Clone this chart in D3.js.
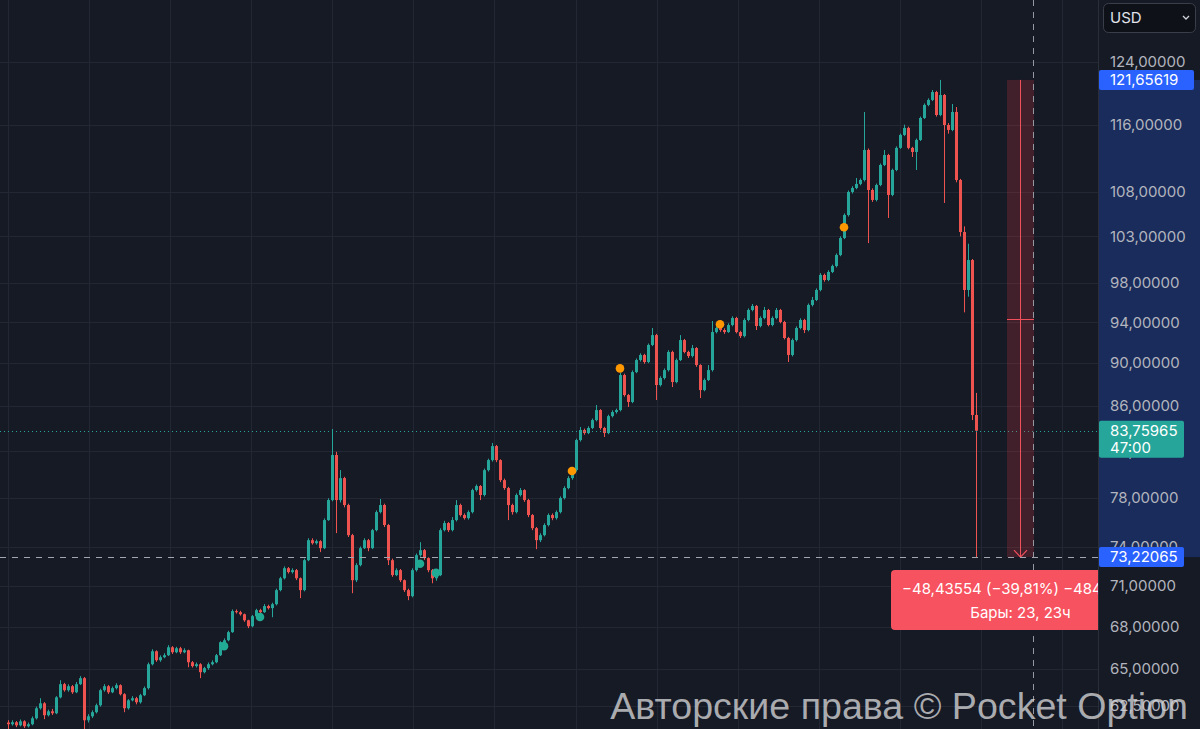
<!DOCTYPE html>
<html><head><meta charset="utf-8">
<script src="https://cdnjs.cloudflare.com/ajax/libs/d3/7.8.5/d3.min.js"></script>
<style>html,body{margin:0;padding:0;background:#161a25;overflow:hidden}svg{display:block}</style>
</head><body>
<svg id="c" width="1200" height="729"></svg>
<script>
// ---------- DATA ----------
const firstOpen = 61.40;
const closes = [
61.29,61.42,61.22,61.48,61.16,61.29,61.68,62.34,62.67,61.88,
62.14,62.01,63.07,63.96,63.55,63.82,63.41,63.96,64.37,61.55,
61.81,62.08,62.54,63.55,63.82,63.41,63.69,63.89,63.28,62.34,
62.87,63.01,62.74,63.21,63.69,65.33,66.24,65.61,65.82,65.96,
66.52,66.17,66.45,66.17,66.31,65.47,65.20,65.33,64.78,65.06,
65.33,65.47,65.96,66.88,67.02,67.60,69.13,69.05,68.90,68.46,
68.03,68.76,69.20,69.05,69.50,69.35,69.64,70.69,71.59,72.36,
72.06,72.21,71.59,70.69,72.98,74.55,74.31,74.47,73.92,76.16,
77.80,81.62,77.80,79.64,77.39,74.95,71.44,72.60,73.92,74.55,
73.92,75.35,76.81,77.39,75.76,72.98,71.83,72.21,71.44,70.69,
70.24,72.21,73.37,73.76,73.14,72.21,71.59,71.83,75.35,75.92,
75.35,76.16,77.39,76.57,76.32,76.81,78.63,78.97,78.22,80.32,
81.18,82.40,81.18,79.47,78.80,77.39,76.81,78.22,78.63,77.80,
76.57,75.51,74.55,74.95,75.76,76.57,76.32,76.81,77.97,78.80,
79.64,80.32,82.93,83.82,83.55,84.00,84.71,85.62,84.00,83.55,
85.07,85.44,85.62,88.87,87.00,86.36,89.15,90.30,90.79,90.11,
91.76,92.73,87.93,88.59,89.34,91.08,88.21,90.30,92.24,91.08,
90.69,91.46,89.82,87.46,88.40,89.34,93.03,93.43,93.23,93.03,
93.73,94.43,93.03,92.63,94.23,95.24,95.65,93.63,94.43,95.24,
93.73,94.43,95.24,94.03,92.44,90.79,92.24,93.43,94.23,93.23,
95.75,96.26,97.29,98.86,98.33,99.17,99.80,100.98,102.82,105.37,
107.98,108.44,108.91,109.37,112.92,108.21,107.07,108.79,111.13,112.32,
107.64,110.54,113.17,114.74,115.60,113.17,112.68,114.13,116.83,118.46,
119.09,120.10,117.20,119.72,115.96,115.35,117.58,109.37,103.48,97.29,
100.44,85.17,83.75965];
const highs = [
61.55,61.55,61.50,61.60,61.55,61.40,61.80,62.45,63.01,62.75,
62.25,62.30,63.15,64.23,64.05,63.95,63.90,64.10,64.51,64.45,
61.95,62.20,62.65,63.65,63.96,63.90,63.80,64.02,63.95,63.35,
62.95,63.15,63.10,63.30,63.80,65.45,66.38,66.30,65.95,66.10,
66.67,66.60,66.55,66.55,66.45,66.35,65.55,65.45,65.40,65.15,
65.45,65.60,66.05,66.95,67.15,67.70,69.25,69.25,69.15,68.95,
68.50,68.85,69.30,69.30,69.65,69.60,69.75,70.80,71.70,72.50,
72.45,72.35,72.30,71.65,73.10,74.70,74.70,74.60,74.55,76.30,
77.95,83.91,81.90,80.32,79.75,77.50,75.05,72.75,74.05,74.70,
74.65,75.45,76.95,77.89,77.50,75.85,73.10,72.35,72.30,71.50,
70.80,72.35,73.50,74.39,73.85,73.20,72.30,72.00,75.50,76.10,
76.00,76.40,77.80,77.50,76.70,76.95,78.75,79.10,79.05,80.45,
81.30,82.67,82.50,81.25,79.60,78.90,77.50,78.35,78.80,78.70,
77.90,76.65,75.60,75.10,75.90,76.70,76.70,76.95,78.10,78.95,
79.80,80.45,83.05,84.09,83.95,84.15,84.85,86.08,85.70,84.10,
85.20,85.60,85.75,89.10,89.00,87.10,89.30,90.45,90.95,90.90,
91.90,93.43,92.85,88.75,89.50,91.25,91.20,90.45,92.73,92.35,
91.20,91.76,91.55,89.90,88.55,89.82,94.13,93.60,93.60,93.40,
93.90,94.60,94.55,93.15,94.40,95.40,95.85,95.75,94.60,95.55,
95.35,94.60,95.44,95.35,94.15,92.55,92.40,93.60,94.40,94.35,
95.90,96.57,97.45,99.05,99.00,99.35,99.95,101.15,103.00,105.55,
108.15,108.65,109.60,109.55,117.58,113.10,108.40,108.95,111.30,112.92,
112.45,110.70,113.35,114.90,116.00,115.75,113.30,114.30,117.00,118.65,
119.30,120.36,120.25,121.65619,119.85,116.20,118.58,118.20,109.50,104.10,
102.20,100.55,87.20];
const lows = [
60.96,61.20,61.10,61.15,61.05,61.08,61.22,61.60,62.25,61.62,
61.80,61.90,61.95,63.00,63.45,63.45,63.30,63.35,63.90,60.96,
61.40,61.70,62.00,62.45,63.45,63.30,63.35,63.60,63.20,62.08,
62.25,62.80,62.60,62.65,63.15,63.60,65.25,65.50,65.50,65.75,
65.90,66.05,66.10,66.05,66.10,65.12,65.10,65.10,64.37,64.70,
64.95,65.25,65.40,65.90,66.75,66.95,67.55,68.95,68.80,68.35,
67.89,67.95,68.70,68.95,69.00,69.25,68.68,69.55,70.60,71.50,
71.95,71.95,71.45,70.09,70.60,72.90,74.20,74.20,73.61,73.85,
76.10,77.70,75.11,77.60,77.20,74.80,70.46,71.30,72.50,73.85,
73.68,73.85,75.25,76.70,75.60,72.60,71.70,71.75,71.30,70.55,
69.94,70.15,72.10,73.25,73.00,72.05,71.21,71.40,71.75,75.25,
75.20,75.25,76.05,76.45,76.20,76.20,76.70,78.50,77.80,78.10,
80.20,81.05,81.00,79.30,78.65,76.16,76.60,76.70,78.10,77.65,
76.40,75.35,73.84,74.40,74.85,75.65,76.15,76.20,76.70,77.85,
78.70,79.50,80.20,82.80,83.40,83.45,83.90,84.60,83.85,83.20,
83.45,84.95,85.30,85.50,86.85,85.90,86.25,89.05,90.15,89.95,
90.00,91.65,86.54,87.80,88.45,89.20,87.74,88.10,90.20,90.95,
90.50,90.55,89.65,86.72,87.35,88.30,89.20,92.90,93.05,92.85,
92.95,93.60,92.90,92.44,92.50,94.10,95.10,93.23,93.50,94.30,
93.60,93.60,94.30,93.90,92.30,90.11,90.65,92.10,93.30,92.93,
93.10,95.60,96.15,97.15,98.15,98.20,99.05,99.65,100.85,102.70,
105.20,107.80,108.30,108.75,109.20,102.27,106.85,106.90,108.65,111.00,
105.04,107.50,110.40,113.05,114.60,113.00,112.08,110.54,114.00,116.70,
118.30,118.95,117.00,117.05,106.73,114.90,115.20,109.10,103.00,95.00,
96.60,84.71,73.22065];
const priceTicks = [62.5,65,68,71,74,78,82,86,90,94,98,103,108,116,124];
const signalIdx   = [54,63,103,107,141,153,178,209];
const signalPrice = [66.6,68.7,72.7,72.0,80.25,89.5,93.8,104.0];
const signalKind  = ["up","up","up","up","hi","hi","hi","hi"];
const lastPrice = 83.75965;
const countdown = "47:00";
const rangeHigh = 121.65619, rangeLow = 73.22065;
const rangeBars = 23, rangeHours = 23;
const currency = "USD";
const watermark = "Авторские права © Pocket Option";

// ---------- DRAW ----------
const W=1200, H=729, plotR=1098;
const BG="#161a25", UP="#26a69a", DN="#ef5350", GRID="#232733";
const FONT="Inter, 'Noto Sans', sans-serif";
const svg=d3.select("#c");
svg.append("rect").attr("width",W).attr("height",H).attr("fill",BG);

const y=d3.scaleLog().domain([65,124]).range([669,62]);
const x=d3.scaleLinear().domain([0,closes.length-1]).range([8,976]);
const fmt=v=>d3.format(".5f")(v).replace(".",",");
const px=v=>Math.round(v)+0.5;

// grid
const g=svg.append("g");
g.selectAll("line.gh").data(priceTicks).join("line").attr("class","gh")
 .attr("x1",0).attr("x2",plotR).attr("y1",d=>px(y(d))).attr("y2",d=>px(y(d)))
 .attr("stroke",GRID).attr("stroke-width",1);
g.selectAll("line.gv").data(d3.range(0,266,20.27)).join("line").attr("class","gv")
 .attr("x1",d=>px(x(d))).attr("x2",d=>px(x(d))).attr("y1",0).attr("y2",H)
 .attr("stroke",GRID).attr("stroke-width",1);

// candles
const candles=closes.map((c,i)=>{const o=i?closes[i-1]:firstOpen;
  return {i,o,c,h:Math.max(highs[i],o,c),l:Math.min(lows[i],o,c)};});
const cg=svg.append("g");
cg.selectAll("line.w").data(candles).join("line").attr("class","w")
 .attr("x1",d=>x(d.i)+0.5).attr("x2",d=>x(d.i)+0.5)
 .attr("y1",d=>y(d.h)).attr("y2",d=>y(d.l))
 .attr("stroke",d=>d.c>=d.o?UP:DN).attr("stroke-width",1);
cg.selectAll("rect.b").data(candles).join("rect").attr("class","b")
 .attr("x",d=>x(d.i)-1).attr("width",3)
 .attr("y",d=>y(Math.max(d.o,d.c)))
 .attr("height",d=>Math.max(1,Math.abs(y(d.o)-y(d.c))))
 .attr("fill",d=>d.c>=d.o?UP:DN);

// signal dots
svg.append("g").selectAll("circle").data(signalIdx.map((d,k)=>({i:d,p:signalPrice[k],k:signalKind[k]})))
 .join("circle").attr("cx",d=>x(d.i)).attr("cy",d=>y(d.p)).attr("r",4.3)
 .attr("fill",d=>d.k==="up"?"#22ab94":"#ff9800");

// current price dotted line
const yLast=y(lastPrice);
svg.append("line").attr("x1",0).attr("x2",plotR).attr("y1",px(yLast)).attr("y2",px(yLast))
 .attr("stroke",UP).attr("stroke-dasharray","1,3");

// measure tool
const yHi=y(rangeHigh), yLo=y(rangeLow);
const mx0=1007, mx1=1034, mxc=1020.5;
svg.append("rect").attr("x",mx0).attr("y",yHi).attr("width",mx1-mx0).attr("height",yLo-yHi)
 .attr("fill","rgba(242,54,69,0.2)");
svg.append("line").attr("x1",mxc).attr("x2",mxc).attr("y1",yHi).attr("y2",yLo).attr("stroke","#f0505c");
svg.append("line").attr("x1",mx0).attr("x2",mx1).attr("y1",px((yHi+yLo)/2)).attr("y2",px((yHi+yLo)/2)).attr("stroke","#f0505c");
svg.append("path").attr("d",`M${mxc-6.5},${yLo-7}L${mxc},${yLo}L${mxc+6.5},${yLo-7}`)
 .attr("fill","none").attr("stroke","#f0505c").attr("stroke-width",1.2);

// crosshair
svg.append("line").attr("x1",1033.5).attr("x2",1033.5).attr("y1",0).attr("y2",H)
 .attr("stroke","#9598a1").attr("stroke-dasharray","6,6");
svg.append("line").attr("x1",0).attr("x2",plotR).attr("y1",px(yLo)).attr("y2",px(yLo))
 .attr("stroke","#a3a6af").attr("stroke-dasharray","6,6");

// measure label
const diff=rangeLow-rangeHigh, pct=diff/rangeHigh*100;
const lbl=svg.append("g");
lbl.append("rect").attr("x",891).attr("y",570).attr("width",2*(mxc-891)).attr("height",60).attr("rx",4).attr("fill","#f7525f");
lbl.append("text").attr("x",mxc).attr("y",594).attr("text-anchor","middle")
 .attr("font-family",FONT).attr("font-size",15).attr("fill","#fff")
 .text(`${fmt(diff)} (${d3.format(".2f")(pct).replace(".",",")}%) ${d3.format("d")(Math.round(diff*100000))}`);
lbl.append("text").attr("x",mxc).attr("y",618).attr("text-anchor","middle")
 .attr("font-family",FONT).attr("font-size",15).attr("fill","#fff")
 .text(`Бары: ${rangeBars}, ${rangeHours}ч`);

// price scale panel
svg.append("rect").attr("x",plotR).attr("y",0).attr("width",W-plotR).attr("height",H).attr("fill",BG);
svg.append("rect").attr("x",plotR).attr("y",yHi).attr("width",W-plotR).attr("height",yLo-yHi).attr("fill","rgba(41,98,255,0.25)");
svg.append("line").attr("x1",plotR+0.5).attr("x2",plotR+0.5).attr("y1",0).attr("y2",H).attr("stroke","#2a2e39");

const ax=svg.append("g").attr("transform",`translate(${plotR},0)`)
 .call(d3.axisRight(y).tickValues(priceTicks).tickSize(0).tickPadding(12).tickFormat(fmt));
ax.select(".domain").remove();
ax.selectAll("text").attr("fill","#b2b5be").attr("font-size",15).attr("font-family",FONT);

// price labels
function tag(yc,w,h,fill,lines){
  const t=svg.append("g");
  t.append("rect").attr("x",plotR+1).attr("y",yc-10).attr("width",w).attr("height",h).attr("rx",2).attr("fill",fill);
  lines.forEach((s,k)=>t.append("text").attr("x",plotR+12).attr("y",yc+k*17).attr("dy","0.35em")
   .attr("font-family",FONT).attr("font-size",15).attr("fill","#fff").text(s));
}
tag(yHi,95,20,"#2962ff",[fmt(rangeHigh)]);
tag(yLast,85,37,UP,[fmt(lastPrice),countdown]);
tag(yLo,85,20,"#2962ff",[fmt(rangeLow)]);

// currency box
const cb=svg.append("g");
cb.append("rect").attr("x",1103.5).attr("y",3.5).attr("width",92).attr("height",29).attr("rx",5)
 .attr("fill","#0f1118").attr("stroke","#3a3e4a");
cb.append("text").attr("x",1110).attr("y",18).attr("dy","0.35em").attr("font-family",FONT)
 .attr("font-size",15).attr("fill","#e0e3eb").text(currency);
cb.append("path").attr("d","M1183,16L1186,19L1189,16").attr("fill","none").attr("stroke","#d1d4dc").attr("stroke-width",1.3);

// watermark
const wm=svg.append("text").attr("x",1188).attr("y",719).attr("text-anchor","end")
 .attr("font-family","'Liberation Sans', Arial, sans-serif").attr("font-size",36)
 .attr("fill","#d4d4d6").attr("fill-opacity",0.78).text(watermark);
const L=wm.node().getComputedTextLength();
wm.attr("font-size",36*578/L);
</script>
</body></html>
